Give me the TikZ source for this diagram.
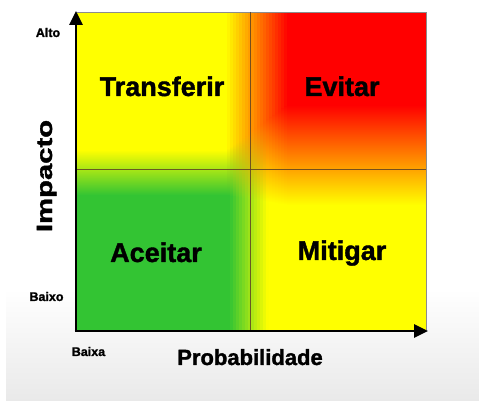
\documentclass[tikz,border=0pt]{standalone}
\usepackage{fontspec}
\setmainfont{Liberation Sans}[BoldFeatures={FakeBold=1.4}]
\usetikzlibrary{arrows.meta}
\definecolor{bggray}{RGB}{233,233,233}
\definecolor{divline}{RGB}{95,65,35}
\tikzset{
  quadlabel/.style={font=\fontsize{27}{27}\selectfont\bfseries, anchor=base, inner sep=0pt},
  smalllabel/.style={font=\fontsize{12.5}{12.5}\selectfont\bfseries, anchor=base, inner sep=0pt},
  axislabel/.style={font=\fontsize{22}{22}\selectfont\bfseries, anchor=base, inner sep=0pt},
  axisline/.style={line width=2.6pt, -{Triangle[length=14pt,width=13pt]}},
  divider/.style={divline, line width=0.9pt, opacity=0.85}
}
\begin{document}
\begin{tikzpicture}[x=1pt,y=1pt]
\useasboundingbox (0,0) rectangle (479,401);
% background
\fill[white] (0,0) rectangle (479,401);
\shade[top color=white, bottom color=bggray] (6,0) rectangle (479,112);
% colour field
\foreach \i in {0,...,116}{
  \pgfmathsetmacro{\xa}{77+3*\i}
  \pgfmathsetmacro{\xc}{\xa+1.5}
  \pgfmathsetmacro{\at}{min(1,max(0,(\xc-226)/62))}
  \pgfmathsetmacro{\ab}{min(1,max(0,(\xc-230)/38))}
  \pgfmathsetmacro{\ga}{1-\at}
  \definecolor{topc}{rgb}{1,\ga,0}
  \pgfmathsetmacro{\rb}{0.2+0.8*\ab}
  \pgfmathsetmacro{\gb}{0.77+0.23*\ab}
  \pgfmathsetmacro{\bb}{max(0,0.2-0.2*\ab)}
  \definecolor{botc}{rgb}{\rb,\gb,\bb}
  \pgfmathsetmacro{\yy}{251+45*\at}
  \pgfmathsetmacro{\yb}{206-10*\at}
  \pgfmathsetmacro{\xb}{min(426,\xa+3.5)}
  \fill[topc] (\xa,\yy) rectangle (\xb,389);
  \shade[top color=topc, bottom color=botc] (\xa,\yb) rectangle (\xb,\yy);
  \fill[botc] (\xa,71) rectangle (\xb,\yb);
}
% frame top/right
\coordinate (tl) at (77,389);
\coordinate (tr) at (426,389);
\coordinate (br) at (426,71);
\draw[black!45, line width=0.8pt] (tl) -- (tr) -- (br);
% dividers
\coordinate (vtop) at (250,389);
\coordinate (vbot) at (250,71);
\coordinate (hleft) at (77,232);
\coordinate (hright) at (426,232);
\draw[divider] (vtop) -- (vbot);
\draw[divider] (hleft) -- (hright);
% axes
\coordinate (O) at (76,70);
\coordinate (ytip) at (76,390);
\coordinate (xtip) at (428,70);
\coordinate (O2) at (74.7,70);
\draw[axisline] (O) -- (ytip);
\draw[axisline] (O2) -- (xtip);
% quadrant labels
\node[quadlabel] (transferir) at (162,305) {Transferir};
\node[quadlabel] (evitar) at (342,305) {Evitar};
\node[quadlabel] (aceitar) at (156,139) {Aceitar};
\node[quadlabel] (mitigar) at (342,141) {Mitigar};
% axis labels
\node[axislabel] (prob) at (250,36) {Probabilidade};
\node[axislabel, rotate=90] (imp) at (52,225) {\scalebox{1.33}[1]{Impacto}};
\node[smalllabel] (alto) at (48,364) {Alto};
\node[smalllabel] (baixo) at (46.5,100) {Baixo};
\node[smalllabel] (baixa) at (88.5,45) {Baixa};
\end{tikzpicture}
\end{document}
